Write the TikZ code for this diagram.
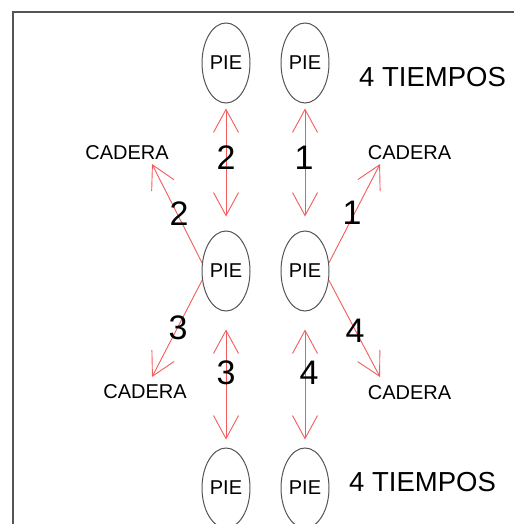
\documentclass[tikz,border=0pt]{standalone}
\usepackage{fontspec}
\setmainfont{Liberation Sans}
\usetikzlibrary{shapes.geometric, arrows.meta, positioning}
\definecolor{cRed}{HTML}{F25C5C}
\definecolor{cGray}{HTML}{555555}
\tikzset{
  foot/.style={
    ellipse, draw=cGray, line width=1pt,
    minimum width=48pt, minimum height=80pt, inner sep=0pt,
    font=\fontsize{20}{24}\selectfont
  },
  hip/.style={inner sep=0pt, font=\fontsize{20}{24}\selectfont},
  num/.style={inner sep=0pt, font=\fontsize{34}{40}\selectfont},
  beat/.style={inner sep=0pt, font=\fontsize{27.5}{32}\selectfont},
  move/.style={cRed, line width=0.9pt, -{Straight Barb[length=23pt, width=25pt]}},
  dmove/.style={cRed, line width=0.9pt,
    {Straight Barb[length=23pt, width=25pt]}-{Straight Barb[length=23pt, width=25pt]}},
}

\begin{document}
\begin{tikzpicture}[x=1pt, y=-1pt]

  \useasboundingbox (0,0) rectangle (514,524);

  % Frame
  \draw[cGray, line width=2pt] (12.5,524) -- (12.5,12.5) -- (514,12.5);

  % Feet
  \node[foot] (pieTL) at (226,63)  {PIE};
  \node[foot] (pieTR) at (305,63)  {PIE};
  \node[foot] (pieML) at (226,271) {PIE};
  \node[foot] (pieMR) at (305,271) {PIE};
  \node[foot] (pieBL) at (226,488) {PIE};
  \node[foot] (pieBR) at (305,488) {PIE};

  % Hips
  \node[hip] (cadUL) at (127,153)   {CADERA};
  \node[hip] (cadUR) at (409.5,153) {CADERA};
  \node[hip] (cadLL) at (145,392)   {CADERA};
  \node[hip] (cadLR) at (409.5,393) {CADERA};

  \coordinate (tUL) at (152,164);
  \coordinate (tUR) at (380,164);
  \coordinate (tLL) at (152,377);
  \coordinate (tLR) at (380,377);

  % Arrows
  \draw[dmove, shorten <=5pt, shorten >=14pt] (pieTL.south) -- (pieML.north);
  \draw[dmove, shorten <=5pt, shorten >=14pt] (pieTR.south) -- (pieMR.north);
  \draw[dmove, shorten <=18pt, shorten >=8pt] (pieML.south) -- (pieBL.north);
  \draw[dmove, shorten <=18pt, shorten >=8pt] (pieMR.south) -- (pieBR.north);
  \draw[move] (pieML.161) -- (tUL);
  \draw[move] (pieMR.19)  -- (tUR);
  \draw[move] (pieML.201) -- (tLL);
  \draw[move] (pieMR.339) -- (tLR);

  % Labels
  \node[num] (n2v) at (226,158) {2};
  \node[num] (n1v) at (304,158) {1};
  \node[num] (n3v) at (226,373) {3};
  \node[num] (n4v) at (309,373) {4};
  \node[num] (n2d) at (179,214) {2};
  \node[num] (n1d) at (352,213) {1};
  \node[num] (n3d) at (178,328) {3};
  \node[num] (n4d) at (355,331) {4};

  \node[beat] (tTop) at (432.5,77) {4 TIEMPOS};
  \node[beat] (tBot) at (422.5,482) {4 TIEMPOS};

\end{tikzpicture}
\end{document}
